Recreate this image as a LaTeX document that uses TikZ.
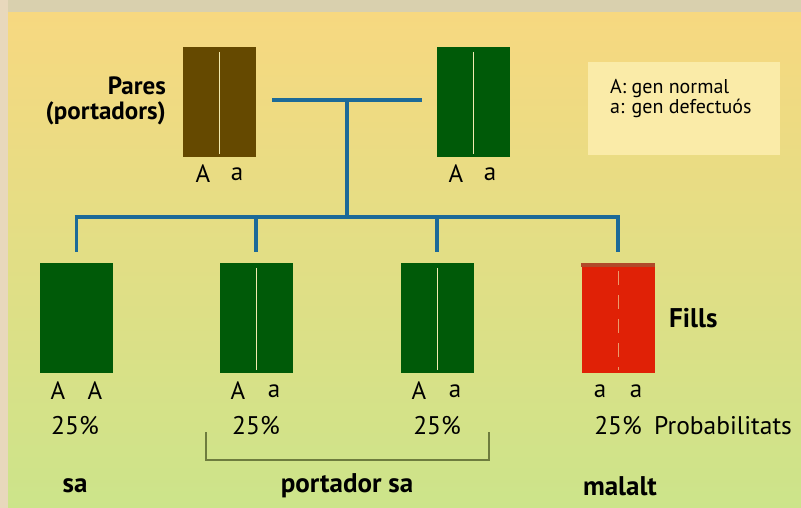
\documentclass[tikz,border=0pt]{standalone}
\usepackage{fontspec}
\setmainfont{PT Sans}
\definecolor{bgtop}{HTML}{F8D880}
\definecolor{bgmid}{HTML}{EEDE84}
\definecolor{bgbot}{HTML}{CCE48A}
\definecolor{stripc}{HTML}{D9D0AE}
\definecolor{edgec}{HTML}{E8D8BC}
\definecolor{legendc}{HTML}{FAEBA8}
\definecolor{brownc}{HTML}{654900}
\definecolor{greenc}{HTML}{005A08}
\definecolor{redc}{HTML}{E02106}
\definecolor{redtop}{HTML}{B04A2A}
\definecolor{bluec}{HTML}{1C6A98}
\definecolor{bracketc}{HTML}{6E7C3E}
\definecolor{divc}{HTML}{F2EAB0}
\begin{document}
\begin{tikzpicture}[x=1pt,y=-1pt,
  box/.style={draw=none, minimum width=73pt, minimum height=110pt, inner sep=0pt},
  divider/.style={draw=divc, line width=1pt},
  link/.style={draw=bluec, line width=3.6pt},
  gen/.style={font=\fontsize{25}{29}\selectfont, inner sep=0pt},
  pct/.style={font=\fontsize{25.5}{29}\selectfont, inner sep=0pt},
  lbl/.style={font=\fontsize{27}{31}\selectfont\bfseries, inner sep=0pt},
  legtext/.style={font=\fontsize{20}{24}\selectfont, align=left, inner sep=0pt},
  brk/.style={draw=bracketc, line width=1.6pt}]
\useasboundingbox (0,0) rectangle (801,508);
\shade[top color=bgtop, middle color=bgmid, bottom color=bgbot] (0,0) rectangle (801,508);
\fill[stripc] (0,0) rectangle (801,12);
\fill[edgec] (0,0) rectangle (8,508);
% legend
\fill[legendc] (588,62) rectangle (780,155);
\node[legtext, anchor=west] (leg) at (610,99) {A: gen normal\\[-4pt]a: gen defectuós};
% parents
\node[box, fill=brownc] (p1) at (219.5,102) {};
\node[box, fill=greenc] (p2) at (473.5,102) {};
\draw[divider] ([yshift=-5pt]p1.north) -- ([yshift=3pt]p1.south);
\draw[divider] ([yshift=-5pt]p2.north) -- ([yshift=3pt]p2.south);
\node[lbl, font=\fontsize{25}{29}\selectfont\bfseries, align=right, anchor=east] (pares) at (166,101) {Pares\\[-4pt](portadors)};
\node[gen] (g1a) at (203,174) {A};
\node[gen] (g1b) at (237,174) {a};
\node[gen] (g2a) at (456,174) {A};
\node[gen] (g2b) at (490,174) {a};
% children
\node[box, fill=greenc] (c1) at (76.5,318) {};
\node[box, fill=greenc] (c2) at (256,318) {};
\node[box, fill=greenc] (c3) at (437,318) {};
\node[box, fill=redc] (c4) at (618,318) {};
\fill[redtop] (c4.north west) rectangle ([yshift=-4pt]c4.north east);
\draw[divider] ([yshift=-5pt]c2.north) -- ([yshift=3pt]c2.south);
\draw[divider] ([yshift=-5pt]c3.north) -- ([yshift=3pt]c3.south);
\draw[divider, draw=divc!60!redc, dash pattern=on 14pt off 10pt] ([yshift=-8pt]c4.north) -- ([yshift=3pt]c4.south);
% connectors
\coordinate (hl) at (272,100);
\coordinate (hr) at (422,100);
\coordinate (mid) at (347,100);
\coordinate (bus) at (347,217);
\draw[link] (hl) -- (hr);
\draw[link] (mid) -- (bus);
\draw[link] ([xshift=-2pt]c1.north |- bus) -- ([xshift=2pt]c4.north |- bus);
\draw[link] (c1.north |- bus) -- ([yshift=11pt]c1.north);
\draw[link] (c2.north |- bus) -- ([yshift=11pt]c2.north);
\draw[link] (c3.north |- bus) -- ([yshift=11pt]c3.north);
\draw[link] (c4.north |- bus) -- ([yshift=11pt]c4.north);
% genotypes of children
\node[gen] (k1a) at (58,391) {A};
\node[gen] (k1b) at (95,391) {A};
\node[gen] (k2a) at (238,391) {A};
\node[gen] (k2b) at (274,391) {a};
\node[gen] (k3a) at (419,391) {A};
\node[gen] (k3b) at (455,391) {a};
\node[gen] (k4a) at (600,391) {a};
\node[gen] (k4b) at (636,391) {a};
% percentages
\node[pct] (q1) at (75,426) {25\%};
\node[pct] (q2) at (256,426) {25\%};
\node[pct] (q3) at (437,426) {25\%};
\node[pct] (q4) at (618,426) {25\%};
\node[pct, anchor=west] (prob) at (654,426) {Probabilitats};
\node[lbl, anchor=west] (fills) at (669,318) {Fills};
% bracket
\coordinate (b1) at (206,432);
\coordinate (b2) at (489,432);
\draw[brk] (b1) -- ++(0,28) -| (b2);
% categories
\node[lbl] (sa) at (75,486) {sa};
\node[lbl] (port) at (347,486) {portador sa};
\node[lbl] (mal) at (620,486) {malalt};
\end{tikzpicture}
\end{document}
